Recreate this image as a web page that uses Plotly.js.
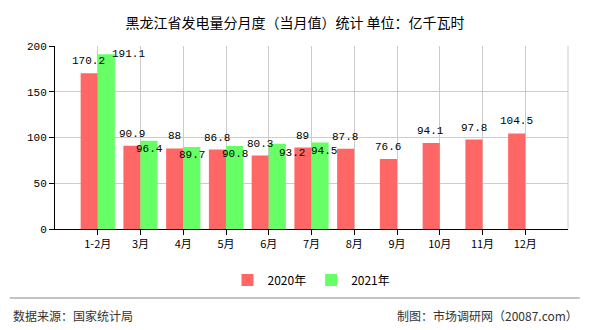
<!DOCTYPE html>
<html><head><meta charset="utf-8">
<script src="https://cdn.plot.ly/plotly-3.0.1.min.js"></script>
<style>html,body{margin:0;padding:0;background:#fff;}#chart{width:590px;height:330px;}</style>
</head><body><div id="chart"></div>
<script>
const categories = ['1-2月','3月','4月','5月','6月','7月','8月','9月','10月','11月','12月'];
const values2020 = [170.2, 90.9, 88, 86.8, 80.3, 89, 87.8, 76.6, 94.1, 97.8, 104.5];
const values2021 = [191.1, 96.4, 89.7, 90.8, 93.2, 94.5];
const seriesNames = ['2020年','2021年'];
const yTicks = [0, 50, 100, 150, 200];

// label pixel offsets (style only)
const shift2021 = [[22,0],[0,-8],[0,-8],[0,-8],[14,-9],[3,-8]];

const monoFont = "'Liberation Mono', 'DejaVu Sans Mono', monospace";
const idx = categories.map((c,i)=>i);
const traces = [
  {type:'bar', name:seriesNames[0], x:idx.slice(0,values2020.length), y:values2020,
   marker:{color:'#FF6666'}},
  {type:'bar', name:seriesNames[1], x:idx.slice(0,values2021.length), y:values2021,
   marker:{color:'#66FF66'}}
];
const lblFont = {family:monoFont, size:11, color:'#000'};
const annotations = [];
values2020.forEach((v,i)=>annotations.push({
  x:i, y:v, xref:'x', yref:'y', text:String(v), showarrow:false,
  xshift:-9, yshift:12, font:lblFont}));
values2021.forEach((v,i)=>annotations.push({
  x:i, y:v, xref:'x', yref:'y', text:String(v), showarrow:false,
  xshift:9+shift2021[i][0], yshift:shift2021[i][1], font:lblFont}));
annotations.push({xref:'paper', yref:'paper', x:-0.085, y:-0.475, xanchor:'left', yanchor:'middle',
  text:'数据来源：国家统计局', showarrow:false, font:{family:"'Noto Sans CJK SC'", size:12, color:'#333'}});
annotations.push({xref:'paper', yref:'paper', x:1.023, y:-0.475, xanchor:'right', yanchor:'middle',
  text:'制图：市场调研网（20087.com）', showarrow:false, font:{family:"'Noto Sans CJK SC'", size:12, color:'#333'}});

const layout = {
  width:590, height:330,
  margin:{l:55, r:22, t:46, b:101},
  paper_bgcolor:'#fff', plot_bgcolor:'#fff',
  title:{text:'黑龙江省发电量分月度（当月值）统计 单位：亿千瓦时', x:0.5, xanchor:'center', y:0.945,
    font:{family:"'Noto Sans CJK SC'", size:14, color:'#000'}},
  barmode:'group', bargap:0.2, bargroupgap:0,
  xaxis:{tickmode:'array', tickvals:idx, ticktext:categories, range:[-1,11],
    showgrid:true, gridcolor:'#cccccc', showline:true, linecolor:'#000', linewidth:1,
    ticks:'outside', ticklen:5, tickcolor:'#000',
    tickfont:{family:"'Noto Sans CJK SC'", size:11, color:'#000'}},
  yaxis:{range:[0,200], tickvals:yTicks, showgrid:true, gridcolor:'#cccccc', showline:true,
    linecolor:'#000', ticks:'outside', ticklen:5, tickcolor:'#000', zeroline:false,
    tickfont:{family:monoFont, size:11, color:'#000'}},
  legend:{orientation:'h', x:0.5, xanchor:'center', y:-0.20, yanchor:'top', bgcolor:'rgba(0,0,0,0)',
    font:{family:"'Noto Sans CJK SC'", size:12, color:'#000'}},
  showlegend:true,
  annotations:annotations,
  shapes:[
    {type:'line', xref:'paper', yref:'paper', x0:-0.088, x1:1.023, y0:-0.377, y1:-0.377, line:{color:'#888', width:1}},
    {type:'line', xref:'paper', yref:'paper', x0:1, x1:1, y0:0, y1:1, line:{color:'#cccccc', width:1}}
  ]
};
Plotly.newPlot('chart', traces, layout, {displayModeBar:false, staticPlot:true});
</script></body></html>
